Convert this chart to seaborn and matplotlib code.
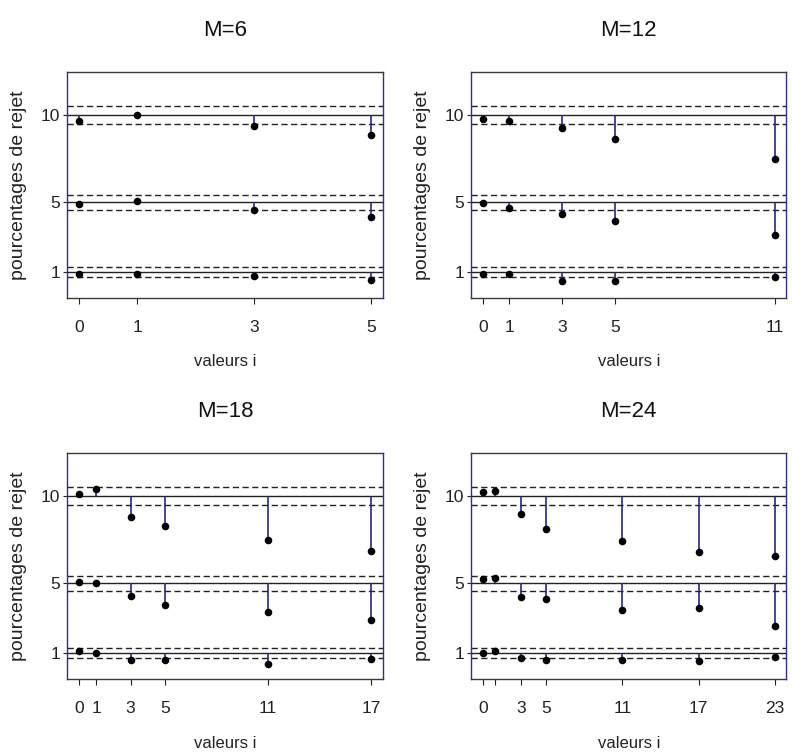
import numpy as np
import pandas as pd
import matplotlib.pyplot as plt
import seaborn as sns

# -----------------------------
# Data
# -----------------------------
levels = [10, 5, 1]
band_hi = [10.5, 5.42, 1.28]
band_lo = [9.5, 4.58, 0.72]

lags_6 = [0, 1, 3, 5]
rej10_6 = [9.67, 10.0, 9.39, 8.86]
rej5_6 = [4.91, 5.10, 4.58, 4.14]
rej1_6 = [0.89, 0.89, 0.76, 0.53]

lags_12 = [0, 1, 3, 5, 11]
rej10_12 = [9.77, 9.66, 9.28, 8.65, 7.50]
rej5_12 = [4.96, 4.66, 4.35, 3.93, 3.10]
rej1_12 = [0.87, 0.87, 0.49, 0.49, 0.73]

lags_18 = [0, 1, 3, 5, 11, 17]
rej10_18 = [10.10, 10.38, 8.78, 8.29, 7.47, 6.86]
rej5_18 = [5.10, 5.00, 4.26, 3.78, 3.34, 2.92]
rej1_18 = [1.11, 1.02, 0.58, 0.58, 0.37, 0.66]

lags_24 = [0, 1, 3, 5, 11, 17, 23]
rej10_24 = [10.21, 10.29, 8.99, 8.11, 7.41, 6.80, 6.57]
rej5_24 = [5.25, 5.32, 4.22, 4.10, 3.49, 3.59, 2.58]
rej1_24 = [1.00, 1.13, 0.69, 0.60, 0.58, 0.56, 0.75]

panels = [
    ("M=6", lags_6, rej10_6, rej5_6, rej1_6, ["0", "1", "3", "5"]),
    ("M=12", lags_12, rej10_12, rej5_12, rej1_12, ["0", "1", "3", "5", "11"]),
    ("M=18", lags_18, rej10_18, rej5_18, rej1_18, ["0", "1", "3", "5", "11", "17"]),
    ("M=24", lags_24, rej10_24, rej5_24, rej1_24, ["0", "", "3", "5", "11", "17", "23"]),
]

# -----------------------------
# Style
# -----------------------------
sns.set_style("white")
plt.rcParams["font.family"] = ["Liberation Sans", "DejaVu Sans"]
navy = "#26268a"
dark = "#222222"

fig, axes = plt.subplots(2, 2, figsize=(7.92, 7.56), dpi=100)
plt.subplots_adjust(left=0.085, right=0.993, bottom=0.102, top=0.905,
                    wspace=0.28, hspace=0.686)

for ax, (title, lags, r10, r5, r1, xlabels) in zip(axes.flat, panels):
    n = len(lags)
    df = pd.DataFrame({
        "i": lags * 3,
        "level": [10] * n + [5] * n + [1] * n,
        "rejet": r10 + r5 + r1,
    })

    # reference lines and bands
    for lvl, lo, hi in zip(levels, band_lo, band_hi):
        ax.axhline(lvl, color=dark, lw=1.0, zorder=1)
        ax.axhline(lo, color=dark, lw=1.0, ls=(0, (4.5, 2.5)), zorder=1)
        ax.axhline(hi, color=dark, lw=1.0, ls=(0, (4.5, 2.5)), zorder=1)

    # stems from nominal level to observed value
    ax.vlines(df["i"], df["level"], df["rejet"], color=navy, lw=1.2, zorder=2)
    sns.scatterplot(data=df, x="i", y="rejet", color="black", s=30,
                    linewidth=0, ax=ax, zorder=3, legend=False)

    xmax = max(lags)
    ax.set_xlim(-0.04 * xmax, 1.04 * xmax)
    ax.set_ylim(-0.48, 12.48)
    ax.set_xticks(lags)
    ax.set_xticklabels(xlabels)
    ax.set_yticks(levels)
    ax.set_yticklabels(["10", "5", "1"])
    ax.tick_params(axis="both", direction="out", width=0.8,
                   colors=dark, labelsize=12.5, left=True, bottom=True)
    ax.tick_params(axis="x", length=4, pad=12)
    ax.tick_params(axis="y", length=3, pad=2)

    for side in ["left", "right"]:
        ax.spines[side].set_color("#2e2e99")
    for side in ["top", "bottom"]:
        ax.spines[side].set_color("#3a3a3a")
    for sp in ax.spines.values():
        sp.set_linewidth(1.0)
        sp.set_visible(True)

    ax.set_title(title, fontsize=16, pad=26, color="#111111")
    ax.set_xlabel("valeurs i", fontsize=12, labelpad=14, color=dark)
    ax.set_ylabel("pourcentages de rejet", fontsize=14, labelpad=10, color=dark)

fig.savefig("out.png", dpi=100)
